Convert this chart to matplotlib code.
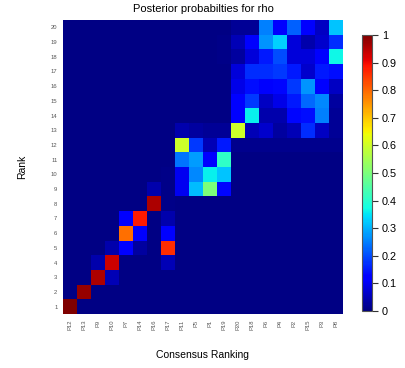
import numpy as np
import matplotlib
matplotlib.use("Agg")
import matplotlib.pyplot as plt

plt.rcParams['font.family'] = ['Liberation Sans', 'DejaVu Sans']

items = ["P12", "P13", "P9", "P10", "P7", "P14", "P16", "P17", "P11", "P5",
         "P1", "P19", "P20", "P18", "P6", "P4", "P2", "P15", "P3", "P8"]
ranks = list(range(1, 21))

# posterior probability, one row per rank (1..20), columns follow `items`
base = 0.004
posterior = [
    # rank 1
    [1.00] + [base] * 19,
    # rank 2
    [base, 0.98] + [base] * 18,
    # rank 3
    [base, base, 0.96, 0.05] + [base] * 16,
    # rank 4
    [base, base, 0.04, 0.93, base, base, base, 0.05] + [base] * 12,
    # rank 5
    [base, base, base, 0.04, 0.12, 0.03, base, 0.86] + [base] * 12,
    # rank 6
    [base, base, base, base, 0.79, 0.12, base, 0.12] + [base] * 12,
    # rank 7
    [base, base, base, base, 0.12, 0.88, base, 0.04] + [base] * 12,
    # rank 8
    [base] * 6 + [0.96, 0.01] + [base] * 12,
    # rank 9
    [base] * 6 + [0.04, 0.01, 0.10, 0.31, 0.50, 0.13] + [base] * 8,
    # rank 10
    [base] * 7 + [0.01, 0.10, 0.26, 0.36, 0.32] + [base] * 8,
    # rank 11
    [base] * 8 + [0.24, 0.28, 0.12, 0.41] + [base] * 8,
    # rank 12
    [base] * 8 + [0.60, 0.18, 0.05, 0.15, 0.015, 0.015, 0.015, 0.015, 0.012, 0.012, 0.012, 0.012],
    # rank 13
    [base] * 8 + [0.04, 0.03, 0.02, 0.02, 0.60, 0.05, 0.07, 0.03, 0.05, 0.17, 0.06, 0.02],
    # rank 14
    [base] * 12 + [0.12, 0.36, 0.04, 0.04, 0.13, 0.14, 0.25, 0.02],
    # rank 15
    [base] * 12 + [0.12, 0.18, 0.06, 0.09, 0.15, 0.23, 0.26, 0.03],
    # rank 16
    [base] * 12 + [0.09, 0.14, 0.11, 0.13, 0.18, 0.27, 0.12, 0.06],
    # rank 17
    [base] * 12 + [0.08, 0.17, 0.17, 0.18, 0.15, 0.07, 0.15, 0.14],
    # rank 18
    [base] * 11 + [0.01, 0.03, 0.08, 0.15, 0.20, 0.08, 0.08, 0.12, 0.37],
    # rank 19
    [base] * 11 + [0.01, 0.05, 0.11, 0.27, 0.33, 0.08, 0.04, 0.07, 0.17],
    # rank 20
    [base] * 12 + [0.02, 0.02, 0.25, 0.12, 0.22, 0.12, 0.06, 0.32],
]
cbar_ticks = [0, 0.1, 0.2, 0.3, 0.4, 0.5, 0.6, 0.7, 0.8, 0.9, 1]
cbar_labels = ["0", "0.1", "0.2", "0.3", "0.4", "0.5", "0.6", "0.7", "0.8", "0.9", "1"]

W, H = 405, 368
fig = plt.figure(figsize=(W / 100, H / 100), dpi=100)
ax = fig.add_axes([63 / W, 1 - 314 / H, 280 / W, 294 / H])

data = np.array(posterior)
im = ax.imshow(data, cmap='jet', vmin=0, vmax=1, aspect='auto', origin='lower',
               interpolation='nearest')

ax.set_xticks(np.arange(len(items)))
ax.set_xticklabels(items, rotation=90, fontsize=4.2, color='#555555')
ax.set_yticks(np.arange(len(ranks)))
ax.set_yticklabels([str(r) for r in ranks], fontsize=4.2, color='#555555')
ax.tick_params(length=0, pad=4)
for s in ax.spines.values():
    s.set_visible(False)

ax.set_title("Posterior probabilties for rho", fontsize=8, pad=6)
fig.text(203 / W, 1 - 355 / H, "Consensus Ranking", ha='center', va='center', fontsize=7.5)
fig.text(22 / W, 1 - 167 / H, "Rank", ha='center', va='center', rotation=90, fontsize=7.5)

cax = fig.add_axes([362 / W, 1 - 311 / H, 10 / W, 276 / H])
cb = fig.colorbar(im, cax=cax, ticks=cbar_ticks)
cb.ax.set_yticklabels(cbar_labels)
cb.ax.tick_params(labelsize=7.8, length=4, width=0.8, color='#333333', pad=3)
cb.outline.set_edgecolor('#555555')
cb.outline.set_linewidth(0.8)

fig.savefig("out.png", dpi=100)
